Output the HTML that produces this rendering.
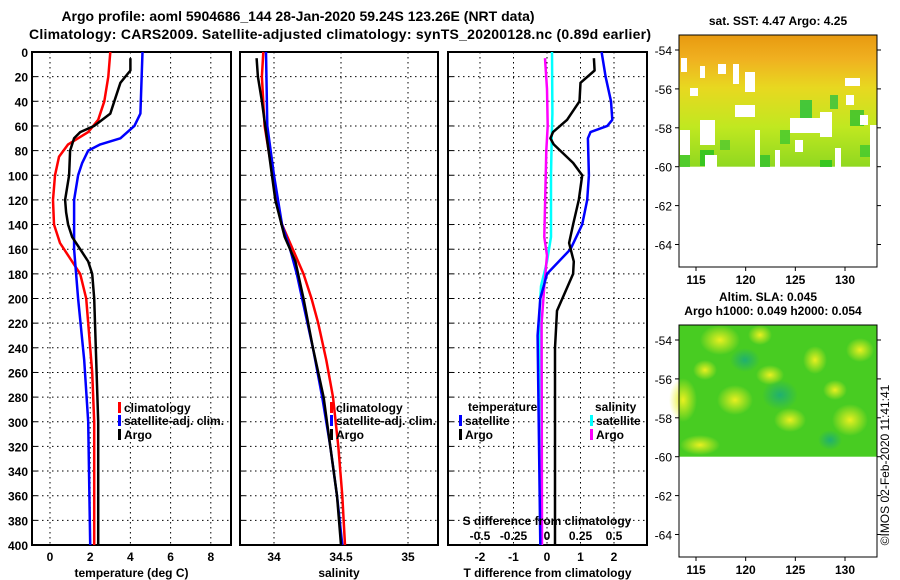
<!DOCTYPE html>
<html><head><meta charset="utf-8"><style>
body{margin:0;background:#fff;}
svg{display:block;font-family:"Liberation Sans",sans-serif;font-weight:bold;}
</style></head><body>
<svg id="c" width="900" height="580" viewBox="0 0 900 580">
<defs>
<linearGradient id="sstg" x1="0" y1="0" x2="0" y2="1">
<stop offset="0" stop-color="#e89a10"/><stop offset="0.18" stop-color="#f0b020"/><stop offset="0.4" stop-color="#e8d820"/><stop offset="0.7" stop-color="#c0e820"/><stop offset="1" stop-color="#90d820"/>
</linearGradient>
<radialGradient id="yb"><stop offset="0" stop-color="#e8f020"/><stop offset="1" stop-color="#e8f020" stop-opacity="0"/></radialGradient>
<radialGradient id="tb"><stop offset="0" stop-color="#20b070"/><stop offset="1" stop-color="#20b070" stop-opacity="0"/></radialGradient>
</defs>
<text x="298" y="21" text-anchor="middle" font-size="14">Argo profile: aoml 5904686_144 28-Jan-2020 59.24S 123.26E (NRT data)</text>
<text x="340" y="39" text-anchor="middle" font-size="14" textLength="622">Climatology: CARS2009. Satellite-adjusted climatology: synTS_20200128.nc (0.89d earlier)</text>
<g id="g"></g>
<text transform="translate(889,465) rotate(-90)" text-anchor="middle" font-size="12" font-weight="normal">©IMOS 02-Feb-2020 11:41:41</text>
</svg>
<script>
// ---- data ----
const tClimDepth=[0,20,40,55,65,75,85,100,120,140,155,170,180,200,220,260,300,400];
const tClim=[3.0,2.9,2.7,2.4,1.9,0.9,0.45,0.25,0.15,0.2,0.5,1.1,1.5,1.8,1.9,2.1,2.2,2.2];
const tSatDepth=[0,50,60,70,75,80,90,100,120,140,160,180,200,250,300,400];
const tSat=[4.6,4.5,4.2,3.5,2.5,1.9,1.6,1.4,1.2,1.2,1.2,1.3,1.4,1.7,1.9,2.0];
const tArgoDepth=[5,15,25,40,50,60,65,70,80,100,120,130,140,150,160,170,180,200,250,300,400];
const tArgo=[4.0,4.0,3.5,3.2,3.0,2.2,1.5,1.2,1.0,0.95,0.75,0.8,0.9,1.1,1.5,1.9,2.1,2.2,2.3,2.4,2.4];
const sClimDepth=[0,20,60,80,100,120,140,160,180,200,220,250,280,320,360,400];
const sClim=[33.92,33.91,33.93,33.96,33.99,34.02,34.06,34.14,34.22,34.28,34.33,34.39,34.44,34.48,34.51,34.53];
const sSatDepth=[0,60,100,140,160,180,200,240,280,320,360,400];
const sSat=[33.94,33.95,34.0,34.06,34.12,34.17,34.21,34.29,34.36,34.42,34.47,34.51];
const sArgoDepth=[5,20,40,80,120,150,170,200,240,280,320,360,400];
const sArgo=[33.87,33.88,33.91,33.96,34.01,34.08,34.16,34.22,34.29,34.37,34.42,34.47,34.5];
const dTSatDepth=[0,20,40,55,60,65,70,100,120,140,160,180,200,230,400];
const dTSat=[1.63,1.75,1.91,1.95,1.8,1.3,1.22,1.25,1.2,1.05,0.7,0.0,-0.2,-0.28,-0.2];
const dTArgoDepth=[5,15,25,40,55,65,70,75,90,100,120,140,155,170,180,195,210,240,280,400];
const dTArgo=[1.4,1.42,1.0,0.97,0.6,0.18,0.1,0.2,0.78,1.05,0.95,0.78,0.66,0.8,0.78,0.54,0.3,0.24,0.24,0.24];
const dSSatDepth=[0,50,70,100,150,170,190,210,400];
const dSSat=[0.037,0.04,0.035,0.03,0.03,0.0,-0.045,-0.055,-0.05];
const dSArgoDepth=[5,30,60,80,150,165,190,220,400];
const dSArgo=[-0.015,0.0,0.005,-0.005,-0.02,0.0,-0.02,-0.04,-0.037];
const depthTicks=[0,20,40,60,80,100,120,140,160,180,200,220,240,260,280,300,320,340,360,380,400];
const tTicks=[0,2,4,6,8];
const sTicks=[34,34.5,35];
const dtTicks=[-2,-1,0,1,2];
const dsTicks=[-0.5,-0.25,0,0.25,0.5];
const latTicks=[-54,-56,-58,-60,-62,-64];
const lonTicks=[115,120,125,130];

const NS='http://www.w3.org/2000/svg';
const G=document.getElementById('g');
function mk(tag,at,parent){const e=document.createElementNS(NS,tag);for(const k in at)e.setAttribute(k,at[k]);(parent||G).appendChild(e);return e;}
const Y=d=>52+d*(493/400);
function lin(d0,d1,r0,r1){return v=>r0+(v-d0)*(r1-r0)/(d1-d0);}
const xT=lin(0,2,50,90.2), xS=lin(34,34.5,274,341), xD=lin(0,1,547,580.5), xDS=v=>xD(v*4);

function panel(x0,x1,name,xs,ticks,fmt,title,showY){
  const p=mk('rect',{x:x0,y:52,width:x1-x0,height:493,fill:'none',stroke:'#000','stroke-width':2});
  
  
  depthTicks.forEach(d=>{
    if(d>0&&d<400){const l=mk('line',{x1:x0,x2:x1,y1:Y(d),y2:Y(d),stroke:'#000','stroke-dasharray':'1.5,3.5','stroke-width':1});
    
    }
    const tk=mk('line',{x1:x0,x2:x0+5,y1:Y(d),y2:Y(d),stroke:'#000'});
    
    
    if(showY){const t=mk('text',{x:28,y:Y(d)+5,'text-anchor':'end','font-size':12});t.textContent=d;
    
    }
  });
  ticks.forEach(v=>{
    const gx=xs(v);
    const l=mk('line',{x1:gx,x2:gx,y1:52,y2:545,stroke:'#000','stroke-dasharray':'1.5,3.5','stroke-width':1});
    
    
    const t=mk('text',{x:gx,y:561,'text-anchor':'middle','font-size':12});t.textContent=fmt(v);
    
    
  });
  const tt=mk('text',{x:(x0+x1)/2,y:577,'text-anchor':'middle','font-size':12});tt.textContent=title;
  
  
}
function series(ds,vs,xs,color,name,w){
  const pts=ds.map((d,i)=>xs(vs[i]).toFixed(1)+','+Y(d).toFixed(1)).join(' ');
  const l=mk('polyline',{points:pts,fill:'none',stroke:color,'stroke-width':w||2.5,'stroke-linejoin':'round'});
  
  
}
function legend(x,y,color,label,nm){
  const r=mk('rect',{x:x,y:y-9,width:3,height:11,fill:color});
  
  
  const t=mk('text',{x:x+6,y:y+1,'font-size':12});t.textContent=label;
  
  
}
panel(32,231,'temperature-panel',xT,tTicks,v=>v,'temperature (deg C)',true);
series(tClimDepth,tClim,xT,'#f00','temp-climatology-line');
series(tSatDepth,tSat,xT,'#00f','temp-satellite-line');
series(tArgoDepth,tArgo,xT,'#000','temp-argo-line');
legend(118,411,'#f00','climatology','legend-climatology');
legend(118,424,'#00f','satellite-adj. clim.','legend-satellite');
legend(118,438,'#000','Argo','legend-argo');

panel(240,438,'salinity-panel',xS,sTicks,v=>v,'salinity',false);
series(sClimDepth,sClim,xS,'#f00','sal-climatology-line');
series(sSatDepth,sSat,xS,'#00f','sal-satellite-line');
series(sArgoDepth,sArgo,xS,'#000','sal-argo-line');
legend(330,411,'#f00','climatology','legend-climatology-2');
legend(330,424,'#00f','satellite-adj. clim.','legend-satellite-2');
legend(330,438,'#000','Argo','legend-argo-2');

panel(448,647,'difference-panel',xD,dtTicks,v=>v,'T difference from climatology',false);
series(dSSatDepth,dSSat,xDS,'#0ff','sdiff-satellite-line');
series(dSArgoDepth,dSArgo,xDS,'#f0f','sdiff-argo-line');
series(dTSatDepth,dTSat,xD,'#00f','tdiff-satellite-line');
series(dTArgoDepth,dTArgo,xD,'#000','tdiff-argo-line');
[['temperature',468,411],['salinity',595,411]].forEach(a=>{const t=mk('text',{x:a[1],y:a[2],'font-size':12});t.textContent=a[0];

});
legend(459,424,'#00f','satellite','legend-tdiff-satellite');
legend(459,438,'#000','Argo','legend-tdiff-argo');
legend(590,424,'#0ff','satellite','legend-sdiff-satellite');
legend(590,438,'#f0f','Argo','legend-sdiff-argo');
const st=mk('text',{x:547,y:525,'text-anchor':'middle','font-size':12});st.textContent='S difference from climatology';


dsTicks.forEach(v=>{const t=mk('text',{x:xDS(v),y:540,'text-anchor':'middle','font-size':12});t.textContent=v;

});

// ---- maps ----
function map(top,name,fillKind){
  const x0=679,x1=877,bot=top+232;
  const latY=l=>top+15+(-54-l)*19.45;
  const lonX=lin(115,130,696,845);
  if(fillKind==='sst'){
    const r=mk('rect',{x:x0,y:top,width:x1-x0,height:latY(-60)-top,fill:'url(#sstg)'});
    
    
    [[700,150,14,16,'#20c020'],[800,100,12,20,'#20c040'],[850,110,14,16,'#30c030'],[760,155,10,12,'#30c030'],[820,160,12,7,'#20c020'],[680,150,10,17,'#40c830'],[780,130,10,14,'#40c830'],[830,95,8,14,'#30c040'],[720,140,10,10,'#50c830'],[860,145,12,12,'#40c830']].forEach(h=>{const e=mk('rect',{x:h[0],y:h[1],width:h[2],height:h[3],fill:h[4],opacity:0.8});
    
    });
    const holes=[[681,58,6,14],[700,66,5,12],[718,64,8,10],[733,64,6,20],[745,72,10,20],[690,88,8,8],[735,105,20,12],[700,120,15,25],[680,130,10,25],[755,130,5,37],[790,118,30,15],[820,112,12,25],[845,78,15,8],[846,95,8,10],[860,115,8,10],[870,125,7,42],[775,150,5,17],[705,155,12,12],[835,148,6,19],[795,140,8,12]];
    holes.forEach(h=>{const e=mk('rect',{x:h[0],y:h[1],width:h[2],height:h[3],fill:'#fff'});
    
    });
  } else {
    const r=mk('rect',{x:x0,y:top,width:x1-x0,height:latY(-60)-top,fill:'#48cc22'});
    
    
    [[683,400,14,22],[720,340,20,15],[735,400,18,15],[815,360,12,14],[850,420,18,16],[790,420,16,12],[860,350,14,12],[700,445,20,10],[760,335,12,10],[770,375,14,10],[835,390,12,10],[705,370,12,10]].forEach(b=>{const e=mk('ellipse',{cx:b[0],cy:b[1],rx:b[2],ry:b[3],fill:'url(#yb)'});
    
    });
    [[780,395,18,15],[745,360,15,12],[830,440,12,10]].forEach(b=>{const e=mk('ellipse',{cx:b[0],cy:b[1],rx:b[2],ry:b[3],fill:'url(#tb)'});
    
    });
  }
  const f=mk('rect',{x:x0,y:top,width:x1-x0,height:bot-top,fill:'none',stroke:'#000','stroke-width':1});
  
  
  latTicks.forEach(l=>{
    const tk=mk('line',{x1:x0,x2:x0-4,y1:latY(l),y2:latY(l),stroke:'#000'});
    
    
    const tk2=mk('line',{x1:x1,x2:x1+4,y1:latY(l),y2:latY(l),stroke:'#000'});
    
    
    const t=mk('text',{x:672,y:latY(l)+5,'text-anchor':'end','font-size':12,'font-weight':'normal'});t.textContent=l;
    
    
  });
  lonTicks.forEach(v=>{
    const tk=mk('line',{x1:lonX(v),x2:lonX(v),y1:bot,y2:bot+4,stroke:'#000'});
    
    
    const t=mk('text',{x:lonX(v),y:bot+17,'text-anchor':'middle','font-size':12});t.textContent=v;
    
    
  });
}
map(35,'sst-map','sst');
map(325,'sla-map','sla');
[['sat. SST: 4.47 Argo: 4.25',778,25,'sst-map-title'],['Altim. SLA: 0.045',768,301,'sla-map-title'],['Argo h1000: 0.049 h2000: 0.054',773,315,'sla-map-subtitle']].forEach(a=>{
  const t=mk('text',{x:a[1],y:a[2],'text-anchor':'middle','font-size':12});t.textContent=a[0];
  
  
});
</script>
</body></html>
